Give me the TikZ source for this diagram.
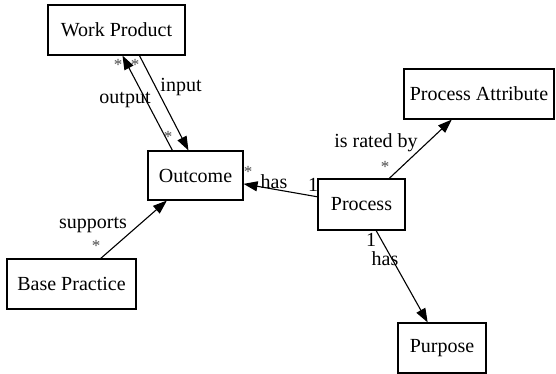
\documentclass[tikz,border=0pt]{standalone}
\usepackage{fontspec}
\setmainfont{Liberation Serif}
\usetikzlibrary{arrows.meta}
\begin{document}
\begin{tikzpicture}[x=1pt,y=-1pt,
  box/.style={draw,line width=1.1pt,inner sep=0pt,font=\fontsize{20}{23}\selectfont},
  lbl/.style={inner sep=0pt,font=\fontsize{20}{23}\selectfont},
  mult/.style={inner sep=0pt,font=\fontsize{17}{20}\selectfont,text=black!70},
  rel/.style={line width=1.1pt,-{Triangle[length=14pt,width=10pt]}}]
\useasboundingbox (0,0) rectangle (556,374);
% classes
\node[box,minimum width=137pt,minimum height=50pt] (wp) at (116.5,30) {Work Product};
\node[box,minimum width=95pt,minimum height=49pt] (oc) at (195.5,175.5) {Outcome};
\node[box,minimum width=150pt,minimum height=50pt] (pa) at (479,94) {Process Attribute};
\node[box,minimum width=87pt,minimum height=51pt] (pr) at (361.5,204.5) {Process};
\node[box,minimum width=129pt,minimum height=50pt] (bp) at (71.5,284) {Base Practice};
\node[box,minimum width=88pt,minimum height=50pt] (pu) at (442,348) {Purpose};
% associations
\draw[rel] ([xshift=25pt]oc.north west) -- ([xshift=75pt]wp.south west);
\draw[rel] ([xshift=92pt]wp.south west) -- ([xshift=41pt]oc.north west);
\draw[rel] (pr) -- (oc);
\draw[rel] (pr) -- (pa);
\draw[rel] (pr) -- (pu);
\draw[rel] (bp) -- (oc);
% role names
\node[lbl] (l1) at (125,100) {output};
\node[lbl] (l2) at (181,87) {input};
\node[lbl] (l3) at (274,182) {has};
\node[lbl] (l4) at (376,143) {is rated by};
\node[lbl] (l5) at (385,259) {has};
\node[lbl] (l6) at (93,225) {supports};
% multiplicities
\node[mult] (m1) at (118,65) {*};
\node[mult] (m2) at (135,65) {*};
\node[mult] (m3) at (168,137) {*};
\node[mult] (m4) at (248,172) {*};
\node[lbl] (m5) at (313,185) {1};
\node[mult] (m6) at (385,167) {*};
\node[lbl] (m7) at (371,240) {1};
\node[mult] (m8) at (96,246) {*};
\end{tikzpicture}
\end{document}
